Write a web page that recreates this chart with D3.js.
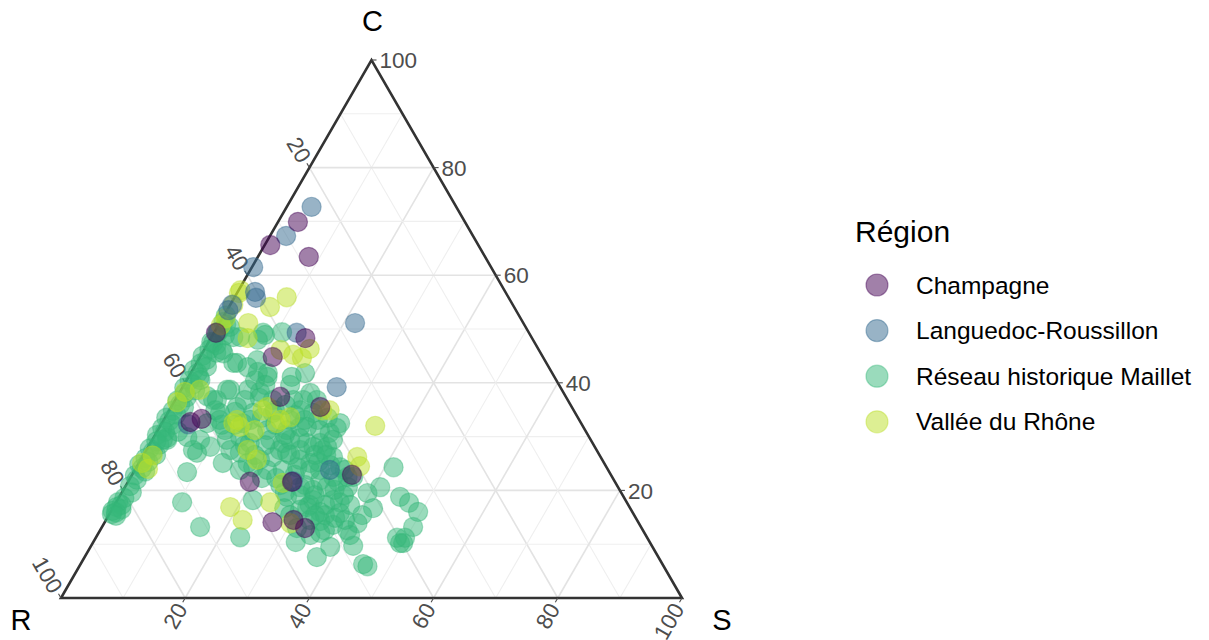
<!DOCTYPE html>
<html><head><meta charset="utf-8">
<script src="https://cdn.jsdelivr.net/npm/d3@7"></script>
<style>body{margin:0;background:#fff}svg{display:block}text{font-family:"Liberation Sans",Arial,Helvetica,sans-serif}</style>
</head><body><svg id="chart" width="1209" height="640"></svg>
<script>
// Compositional data: each point is [S, C] in percent; R = 100 - S - C
const regions = ["Champagne", "Languedoc-Roussillon", "Réseau historique Maillet", "Vallée du Rhône"];
const colors = ["#440154", "#31688E", "#35B779", "#BBDF27"];
const tickValues = [20, 40, 60, 80, 100];
const gridValues = [10, 20, 30, 40, 50, 60, 70, 80, 90];
const vertexLabels = ["R", "S", "C"];

const champagne = [[3.2,69.9],[0.9,65.6],[8.2,63.4],[0.3,49.3],[15.2,48.3],[11.7,44.8],[16.6,37.4],[4.5,32.7],[6.0,33.3],[19.6,21.6],[27.0,14.1],[30.2,14.5],[32.8,13.0],[26.4,21.6],[24.0,35.5],[35.4,22.9]];

const languedoc = [[4.0,72.7],[2.6,67.3],[0.2,61.5],[2.8,56.9],[3.5,55.8],[0.3,54.5],[0.2,53.5],[21.8,51.1],[13.3,49.3],[24.8,39.2],[26.5,21.7],[4.3,32.3],[31.4,23.8]];

const vallee = [[0.3,56.7],[8.4,55.9],[6.6,54.1],[0.5,52.0],[4.6,51.1],[5.9,48.3],[12.3,46.1],[16.5,44.6],[14.8,45.2],[34.6,32.0],[24.6,34.9],[34.6,26.2],[35.9,24.5],[18.8,16.9],[22.0,14.5],[24.8,17.8],[30.0,13.9],[12.9,31.8],[18.5,32.5],[20.1,33.6],[15.0,34.9],[25.8,34.9],[0.3,57.2],[0.5,54.5],[3.0,38.7],[0.5,25.1],[0.5,36.4],[0.8,38.3],[18.7,25.7],[25.0,21.4],[16.9,46.3],[0.4,50.7],[15.5,35.5],[11.8,33.1],[18.8,33.1],[16.3,27.5],[11.5,32.5],[15.6,31.2],[1.5,26.5],[2.0,24.0]];

const reseauCluster = [[2.0,50.4],[0.5,51.3],[8.4,48.9],[10.9,49.4],[7.9,49.3],[0.5,49.3],[4.6,48.5],[0.8,47.4],[2.9,46.1],[6.5,43.7],[9.5,44.2],[10.7,42.0],[12.7,41.1],[16.6,41.1],[8.6,42.9],[5.9,43.7],[2.2,40.5],[7.9,38.7],[10.8,38.7],[13.4,37.2],[15.7,36.8],[19.0,36.8],[21.1,38.1],[22.8,36.8],[20.6,36.8],[6.1,36.8],[4.8,37.5],[10.6,35.5],[13.7,34.4],[16.9,34.4],[21.1,34.9],[23.4,34.4],[28.7,32.5],[28.6,31.6],[27.9,30.7],[26.1,31.2],[22.6,31.8],[20.8,31.2],[17.6,31.2],[15.6,30.7],[13.9,29.9],[12.0,29.4],[7.7,29.4],[5.4,29.9],[2.4,29.4],[8.4,27.0],[10.0,28.1],[13.5,27.5],[15.3,27.0],[13.5,25.1],[17.5,25.1],[19.2,25.7],[21.0,26.2],[22.9,27.0],[24.8,27.5],[26.6,28.1],[28.8,28.1],[30.7,26.2],[32.8,24.3],[34.9,22.5],[32.6,22.5],[29.8,23.8],[27.6,25.1],[25.9,24.3],[23.8,23.8],[21.3,23.8],[18.8,24.3],[8.6,23.4],[41.4,24.3],[41.1,20.6],[45.2,18.8],[47.2,17.7],[49.5,16.0],[50.1,13.2],[49.8,11.2],[49.5,10.2],[39.6,19.5],[41.9,16.7],[40.8,15.4],[40.8,13.9],[40.7,11.7],[42.2,9.7],[45.5,6.3],[46.4,5.9],[38.6,9.5],[37.4,7.6],[34.3,11.7],[32.6,10.4],[31.5,13.0],[31.5,18.2],[31.2,16.9],[33.7,16.0],[34.7,18.2],[37.0,15.8],[37.0,13.6],[34.6,14.3],[30.5,20.1],[32.5,20.6],[28.2,20.6],[27.0,18.8],[27.6,16.7],[21.8,18.2],[23.2,11.3],[15.8,13.2],[10.6,17.8],[1.7,29.4],[3.4,30.9],[9.0,33.1],[7.3,32.5],[13.0,32.5],[20.3,33.1],[23.7,31.8],[16.0,28.8],[21.3,28.8],[25.2,28.8],[28.4,27.5],[27.3,28.8],[29.1,29.4],[35.9,20.6],[35.8,22.5],[36.0,17.8],[31.4,17.3],[29.0,19.1],[26.2,19.7],[7.5,27.5],[3.5,48.5],[7.7,48.0],[12.4,41.8],[17.1,39.6],[12.9,38.3],[8.4,34.4],[7.4,38.7],[6.7,36.8],[3.4,45.5],[18.4,41.8],[39.8,12.6],[35.7,12.1],[50.0,10.2],[48.5,11.2],
[19.0,29.4],[21.5,27.5],[22.2,29.4],[25.6,25.7],[28.2,23.8],[30.8,21.9],[26.2,22.9],[28.8,21.0],[31.3,19.1],[33.9,17.3],[23.6,26.6],[18.4,32.2],[18.7,28.4],[20.9,30.3],[23.6,29.7],[27.6,26.6],[31.0,24.7],[33.8,23.8],[34.0,20.1],[34.8,15.4],[32.8,14.5],[30.3,16.4],[29.2,15.4],[24.8,21.0],[17.9,26.6],[15.4,28.4],[11.9,32.2],[10.8,31.2],[13.9,33.1],[15.6,33.5],[17.0,34.9],[18.2,35.9],[20.7,34.0],[22.7,33.1],[24.8,33.1],[26.2,33.5],[11.0,40.5],[13.1,39.6],[11.2,36.8],[10.7,34.6],[7.4,34.9],[9.8,32.2],[16.9,23.8],[21.2,22.3],[23.5,22.3],[28.8,25.3],[29.4,26.6],[33.8,21.6],[36.0,19.1],[37.9,17.3],[33.2,15.4],[36.7,14.9],[38.5,14.5],[36.2,12.6]];

const reseauEdge = [[0.3,52.5],[1.2,50.8],[0.6,49.5],[2.0,48.8],[0.4,47.6],[1.5,47.0],[0.8,46.2],[2.2,45.6],[0.3,45.0],[1.3,44.3],[0.7,43.6],[2.0,43.0],[0.2,42.4],[1.1,41.8],[1.8,41.0],[0.5,40.4],[1.4,39.7],[0.3,39.1],[2.3,38.6],[0.9,38.0],[1.6,37.3],[0.4,36.7],[1.2,36.0],[2.1,35.4],[0.6,34.8],[1.5,34.1],[0.2,33.5],[1.0,32.9],[1.9,32.2],[0.5,31.6],[1.3,30.9],[0.3,30.3],[2.2,29.8],[0.8,29.1],[1.6,28.5],[0.4,27.8],[1.2,27.2],[2.0,26.6],[0.6,26.0],[1.4,25.3],[0.2,24.8],[1.0,24.1],[1.8,23.5],[0.5,22.8],[1.2,22.0],[0.7,20.8],[1.6,19.6],[0.9,18.6],[0.3,17.8],[1.1,17.3],[0.5,16.9],[1.5,16.5],[0.2,16.2],[0.9,15.9],[0.4,15.6],[1.2,15.3]];

const seriesList = [
  {region: regions[2], pts: reseauEdge.concat(reseauCluster)},
  {region: regions[3], pts: vallee},
  {region: regions[1], pts: languedoc},
  {region: regions[0], pts: champagne}
];
const rows = [];
seriesList.forEach(s => s.pts.forEach(p => rows.push({region: s.region, S: p[0], C: p[1], R: 100 - p[0] - p[1]})));

const svg = d3.select("#chart");
const color = d3.scaleOrdinal().domain(regions).range(colors);
// cartesian projection of the ternary simplex
const xs = d3.scaleLinear().domain([0, 100]).range([61, 682]);
const ys = d3.scaleLinear().domain([0, 100]).range([598, 60]);
const px = d => xs(d.S + d.C / 2);
const py = d => ys(d.C);
const pt = (R, S, C) => [xs(S + C / 2), ys(C)];

// grid
const g = svg.append("g");
gridValues.forEach(v => {
  const major = v % 20 === 0;
  const segs = [
    [pt(100 - v, 0, v), pt(0, 100 - v, v)],
    [pt(100 - v, v, 0), pt(0, v, 100 - v)],
    [pt(v, 100 - v, 0), pt(v, 0, 100 - v)]
  ];
  segs.forEach(sg => g.append("line")
    .attr("x1", sg[0][0]).attr("y1", sg[0][1]).attr("x2", sg[1][0]).attr("y2", sg[1][1])
    .attr("stroke", major ? "#e3e3e3" : "#efefef").attr("stroke-width", major ? 1.6 : 1.1));
});

// border
const vR = pt(100, 0, 0), vS = pt(0, 100, 0), vC = pt(0, 0, 100);
svg.append("path").attr("d", d3.line()([vR, vS, vC]) + "Z")
  .attr("fill", "none").attr("stroke", "#333").attr("stroke-width", 2.6).attr("stroke-linejoin", "miter");

// ticks & labels
const tl = 5, off = 8;
const axes = [
  {f: v => pt(0, 100 - v, v), dir: [1, 0], rot: 0, anchor: "start"},
  {f: v => pt(100 - v, v, 0), dir: [-0.5, 0.866], rot: -60, anchor: "end"},
  {f: v => pt(v, 0, 100 - v), dir: [-0.5, -0.866], rot: 60, anchor: "end"}
];
axes.forEach(a => tickValues.forEach(v => {
  const p = a.f(v);
  svg.append("line").attr("x1", p[0]).attr("y1", p[1])
    .attr("x2", p[0] + a.dir[0] * tl).attr("y2", p[1] + a.dir[1] * tl)
    .attr("stroke", "#4d4d4d").attr("stroke-width", 1.1);
  const q = [p[0] + a.dir[0] * off, p[1] + a.dir[1] * off];
  svg.append("text").attr("x", q[0]).attr("y", q[1]).attr("dy", "0.36em")
    .attr("text-anchor", a.anchor)
    .attr("transform", a.rot ? `rotate(${a.rot},${q[0]},${q[1]})` : null)
    .attr("fill", "#4d4d4d").attr("font-size", 22.5).text(v);
}));

// vertex labels
svg.append("text").attr("x", vC[0] + 1).attr("y", 31).attr("text-anchor", "middle").attr("font-size", 29).attr("fill", "#000").text(vertexLabels[2]);
svg.append("text").attr("x", 21).attr("y", 630).attr("text-anchor", "middle").attr("font-size", 29).attr("fill", "#000").text(vertexLabels[0]);
svg.append("text").attr("x", 722).attr("y", 630).attr("text-anchor", "middle").attr("font-size", 29).attr("fill", "#000").text(vertexLabels[1]);

// points
svg.append("g").selectAll("circle").data(rows).join("circle")
  .attr("cx", px).attr("cy", py).attr("r", 9.6)
  .attr("fill", d => color(d.region)).attr("fill-opacity", 0.5)
  .attr("stroke", d => color(d.region)).attr("stroke-opacity", 0.4).attr("stroke-width", 1.2);

// legend
const lg = svg.append("g");
lg.append("text").attr("x", 855).attr("y", 242).attr("font-size", 30).attr("fill", "#000").text("Région");
regions.forEach((r, i) => {
  const y = 285 + i * 45.6;
  lg.append("circle").attr("cx", 877).attr("cy", y).attr("r", 11)
    .attr("fill", color(r)).attr("fill-opacity", 0.5)
    .attr("stroke", color(r)).attr("stroke-opacity", 0.4).attr("stroke-width", 1.2);
  lg.append("text").attr("x", 916).attr("y", y).attr("dy", "0.35em").attr("font-size", 24.5).attr("fill", "#000").text(r);
});
</script></body></html>
